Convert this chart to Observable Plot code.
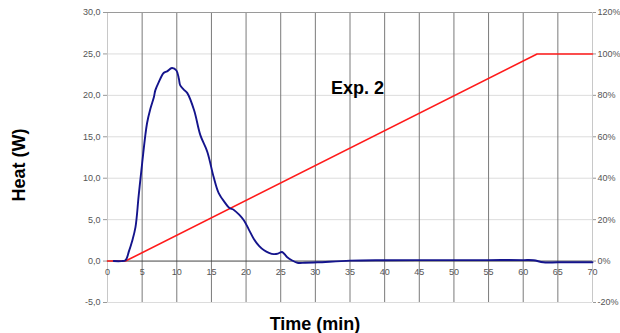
<!DOCTYPE html>
<html><head><meta charset="utf-8">
<script src="https://cdn.jsdelivr.net/npm/d3@7"></script>
<script src="https://cdn.jsdelivr.net/npm/@observablehq/plot@0.6"></script>
<style>html,body{margin:0;padding:0;background:#fff;} svg{display:block}</style>
</head><body><div id="chart"></div>
<script>
// Heat curve (W) vs time (min)
const heatTime = [0.9, 2.0, 2.6, 3.1, 3.55, 4.04, 4.5, 5.0, 5.7, 6.2, 6.7, 6.9, 7.4, 8.1, 8.6, 9.3, 9.95, 10.3, 10.5, 11.0, 11.5, 12.5, 13.4, 14.4, 15.3, 16.05, 17.0, 17.6, 18.2, 19.0, 19.7, 20.4, 21.1, 21.9, 22.6, 23.3, 24.0, 24.6, 25.2, 25.9, 26.6, 27.4, 28.5, 30.3, 35, 40, 45, 50, 55, 60, 61.5, 62.9, 65, 70];
const heatW    = [0.0, 0.0, 0.1, 1.2, 2.4, 4.1, 7.9, 11.8, 16.6, 18.4, 19.8, 20.6, 21.6, 22.7, 22.9, 23.3, 23.0, 22.0, 21.2, 20.7, 20.3, 18.2, 15.2, 13.2, 10.2, 8.2, 7.0, 6.4, 6.2, 5.6, 4.9, 3.8, 2.7, 1.8, 1.3, 1.0, 0.84, 0.9, 1.1, 0.5, 0.1, -0.2, -0.2, -0.15, 0.05, 0.1, 0.12, 0.12, 0.12, 0.12, 0.1, -0.15, -0.15, -0.15];
// Ramp (%) vs time (min), right axis
const rampTime = [0, 2.6, 62, 70];
const rampPct  = [0, 0, 100, 100];
// Axis ticks
const xTicks = [0, 5, 10, 15, 20, 25, 30, 35, 40, 45, 50, 55, 60, 65, 70];
const xTickLabels = ["0", "5", "10", "15", "20", "25", "30", "35", "40", "45", "50", "55", "60", "65", "70"];
const yTicks = [-5, 0, 5, 10, 15, 20, 25, 30];
const leftTickLabels = ["-5,0", "0,0", "5,0", "10,0", "15,0", "20,0", "25,0", "30,0"];
const rightTickLabels = ["-20%", "0%", "20%", "40%", "60%", "80%", "100%", "120%"];
const annotation = ["Exp. 2"];
const yTitle = "Heat (W)";
const xTitle = "Time (min)";

const heat = heatTime.map((t, i) => ({t, w: heatW[i]}));
const ramp = rampTime.map((t, i) => ({t, pct: rampPct[i]}));
const pctToW = p => p / 4; // -20..120 % maps onto -5..30 W

const font = "Liberation Sans, Arial, sans-serif";
const chart = Plot.plot({
  width: 620, height: 333,
  marginLeft: 107, marginRight: 28, marginTop: 12, marginBottom: 31,
  style: {fontFamily: font, background: "#fff"},
  x: {domain: [0, 70], axis: null},
  y: {domain: [-5, 30], axis: null},
  marks: [
    Plot.ruleY(yTicks.filter(d => d !== 0 && d !== 30), {y: d => d, stroke: "#dcdcdc", strokeWidth: 1}),
    Plot.ruleX(xTicks, {x: d => d, stroke: d => (d === 0 || d === 70) ? "#c8c8c8" : "#7a7a7a", strokeWidth: 1}),
    Plot.ruleY([30], {y: d => d, stroke: "#9a9a9a"}),
    Plot.ruleY([0], {y: d => d, stroke: "#444"}),
    Plot.axisY({anchor: "left", label: null, ticks: yTicks, tickFormat: d => leftTickLabels[yTicks.indexOf(d)], tickSize: 4, tickPadding: 3, fontSize: 9, color: "#555", stroke: "#999"}),
    Plot.axisY({anchor: "right", label: null, ticks: yTicks, tickFormat: d => rightTickLabels[yTicks.indexOf(d)], tickSize: 3, tickPadding: 2, fontSize: 9, color: "#555", stroke: "#999"}),
    Plot.text(xTicks, {x: d => d, y: 0, text: (d, i) => xTickLabels[i], dy: 11, fontSize: 9, fill: "#555", lineAnchor: "middle"}),
    Plot.line(ramp, {x: "t", y: d => pctToW(d.pct), stroke: "#ff1a1a", strokeWidth: 1.6}),
    Plot.line(heat, {x: "t", y: "w", stroke: "#14148c", strokeWidth: 1.9, curve: "catmull-rom"}),
    Plot.text(annotation, {x: 36.1, y: 20.8, text: d => d, fontSize: 18, fontWeight: "bold", fill: "#000", lineAnchor: "middle"}),
    Plot.text([yTitle], {frameAnchor: "left", text: d => d, rotate: -90, dx: -88, dy: 44, fontSize: 18, fontWeight: "bold", fill: "#000"}),
    Plot.text([xTitle], {frameAnchor: "bottom", text: d => d, dx: -35, dy: 27, lineAnchor: "bottom", fontSize: 18, fontWeight: "bold", fill: "#000"})
  ]
});
document.getElementById("chart").appendChild(chart);
</script>
</body></html>
